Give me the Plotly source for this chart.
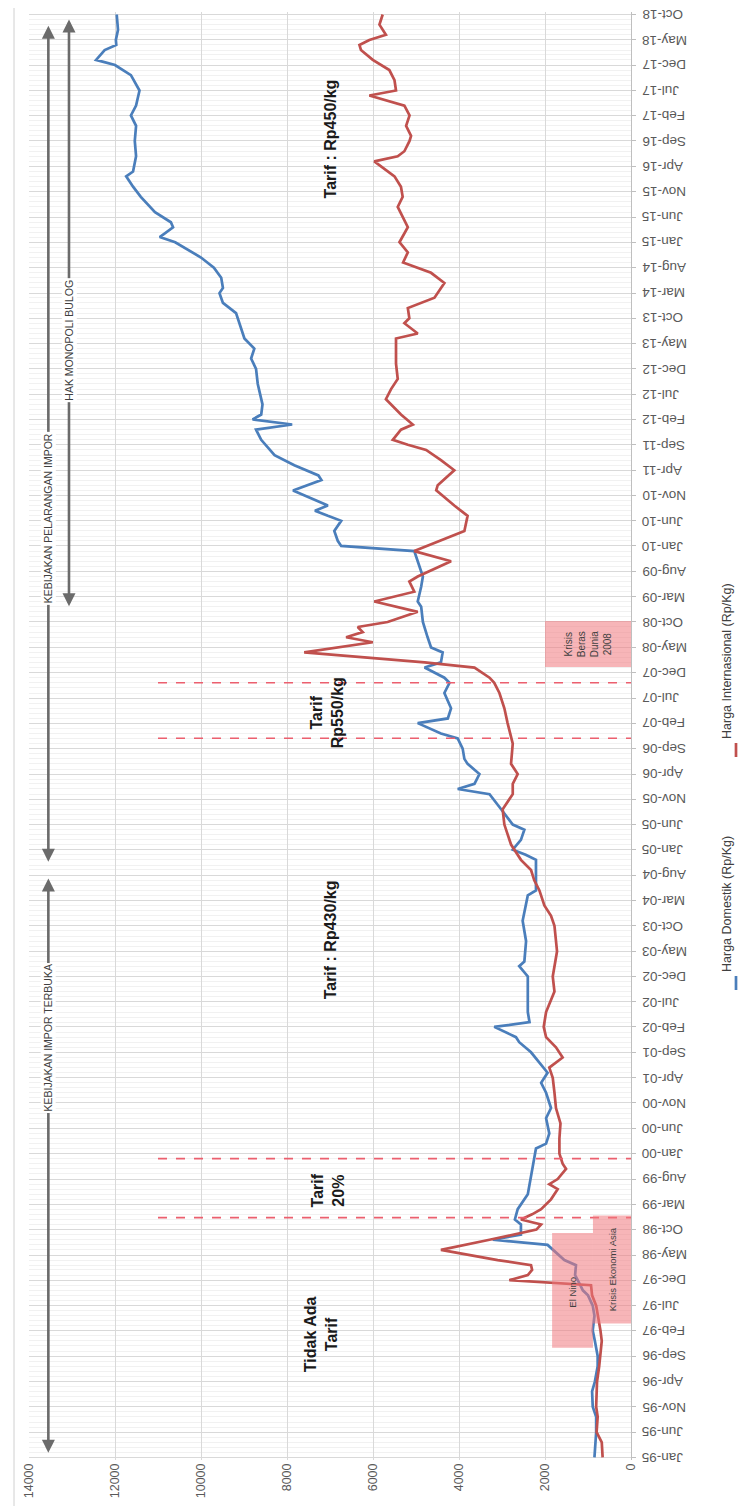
import pandas as pd
import plotly.graph_objects as go

# ---------------- data ----------------
dom_dates = ["1995-01","1995-04","1995-06","1995-09","1995-11","1996-02","1996-04","1996-07","1996-09","1996-12",
             "1997-02","1997-05","1997-07","1997-09","1997-10","1997-11","1998-01","1998-03","1998-04","1998-07",
             "1998-08","1998-09","1998-11","1998-12","1999-02","1999-05","1999-07","1999-10","1999-12","2000-02",
             "2000-03","2000-05","2000-08","2000-10","2001-01","2001-03","2001-05","2001-07","2001-09","2001-11",
             "2001-12","2002-02","2002-03","2002-05","2002-09","2002-12","2003-02","2003-03","2003-07","2003-11",
             "2004-04","2004-05","2004-11","2004-12","2005-01","2005-03","2005-05","2005-06","2005-09","2005-12",
             "2006-01","2006-02","2006-04","2006-06","2006-07","2006-09","2006-11","2006-12","2007-02","2007-03",
             "2007-05","2007-08","2007-10","2007-11","2008-01","2008-02","2008-04","2008-05","2008-07","2008-10",
             "2009-01","2009-02","2009-05","2009-07","2009-10","2009-12","2010-01","2010-02","2010-04","2010-06",
             "2010-07","2010-08","2010-09","2010-11","2010-12","2011-02","2011-03","2011-05","2011-07","2011-10",
             "2011-12","2012-01","2012-02","2012-03","2012-05","2012-09","2012-12","2013-02","2013-04","2013-06",
             "2013-09","2013-11","2014-01","2014-03","2014-04","2014-06","2014-08","2014-10","2015-01","2015-02",
             "2015-04","2015-05","2015-07","2015-10","2015-12","2016-02","2016-03","2016-06","2016-09","2016-12",
             "2017-02","2017-04","2017-07","2017-10","2017-12","2018-01","2018-03","2018-04","2018-05","2018-07",
             "2018-10"]
dom_values = [850, 830, 810, 810, 890, 905, 840, 775, 775, 840,
              890, 850, 890, 1000, 1120, 1180, 1300, 1280, 1550, 1940,
              3215, 2560, 2560, 2700, 2635, 2400, 2360, 2290, 2250, 2210,
              1975, 1900, 1975, 1860, 1975, 2090, 1940, 2130, 2325, 2600,
              2675, 3180, 2360, 2400, 2400, 2400, 2600, 2480, 2440, 2520,
              2400, 2210, 2210, 2450, 2750, 2560, 2480, 2750, 3020, 3290,
              4030, 3640, 3525, 3800, 3875, 3915, 4030, 4420, 4960, 4260,
              4185, 4340, 4220, 4340, 4800, 4420, 4380, 4650, 4730, 4840,
              4880, 4960, 4880, 4840, 4960, 5040, 6740, 6820, 6900, 6740,
              7050, 7350, 7050, 7600, 7860, 7200, 7270, 7830, 8290, 8600,
              8720, 7880, 8800, 8600, 8570, 8680, 8720, 8835, 8760, 8990,
              9110, 9185, 9490, 9570, 9490, 9530, 9700, 10000, 10600, 10960,
              10650, 10700, 11070, 11400, 11580, 11740, 11580, 11510, 11540, 11510,
              11630, 11510, 11430, 11630, 12000, 12440, 12240, 11970, 11980, 11930,
              11960]

int_dates = ["1995-01","1995-04","1995-06","1995-09","1995-11","1996-02","1996-04","1996-07","1996-09","1996-12",
             "1997-02","1997-05","1997-07","1997-09","1997-11","1997-12","1998-01","1998-02","1998-03","1998-04",
             "1998-06","1998-08","1998-10","1998-11","1998-12","1999-01","1999-02","1999-04","1999-06","1999-07",
             "1999-08","1999-10","1999-11","2000-01","2000-04","2000-07","2000-10","2001-01","2001-04","2001-06",
             "2001-08","2001-10","2001-12","2002-02","2002-05","2002-09","2002-12","2003-05","2003-10","2003-12",
             "2004-02","2004-05","2004-07","2004-09","2004-11","2005-02","2005-04","2005-06","2005-09","2005-12",
             "2006-02","2006-04","2006-06","2006-10","2007-02","2007-05","2007-08","2007-10","2007-11","2008-01",
             "2008-02","2008-04","2008-06","2008-07","2008-08","2008-09","2008-10","2008-12","2009-02","2009-04",
             "2009-06","2009-07","2009-10","2009-12","2010-04","2010-07","2010-09","2010-12","2011-01","2011-04",
             "2011-06","2011-08","2011-09","2011-10","2011-12","2012-01","2012-03","2012-06","2012-08","2012-10",
             "2013-01","2013-03","2013-06","2013-07","2013-09","2013-10","2013-12","2014-02","2014-05","2014-07",
             "2014-08","2014-09","2014-11","2015-01","2015-04","2015-08","2015-10","2015-12","2016-02","2016-05",
             "2016-06","2016-07","2016-09","2016-10","2016-12","2017-02","2017-04","2017-06","2017-07","2017-09",
             "2017-11","2018-01","2018-03","2018-04","2018-05","2018-06","2018-08","2018-10"]
int_values = [660, 680, 800, 775, 810, 790, 790, 740, 710, 680,
              710, 760, 810, 905, 930, 2830, 2400, 2300, 2325, 3100,
              4420, 3290, 2200, 2090, 2560, 2300, 2090, 1860, 1705, 1900,
              1705, 1510, 1590, 1665, 1665, 1640, 1745, 1780, 1820, 1900,
              1590, 1745, 1975, 2030, 1975, 1780, 1820, 1720, 1780, 1860,
              2015, 2130, 2250, 2325, 2560, 2790, 2870, 2945, 2985, 2750,
              2750, 2635, 2790, 2750, 2870, 2945, 3060, 3180, 3290, 3640,
              4800, 7600, 6005, 6625, 6240, 6355, 5660, 4960, 5970, 5040,
              5155, 4960, 4185, 5040, 3875, 3800, 4110, 4530, 4495, 4110,
              4420, 4765, 5190, 5540, 5350, 5075, 5350, 5700, 5580, 5425,
              5465, 5465, 5465, 4960, 5270, 5155, 5190, 4570, 4340, 4650,
              5000, 5300, 5190, 5385, 5190, 5425, 5310, 5350, 5500, 5970,
              5425, 5270, 5150, 5115, 5230, 5150, 5270, 6085, 5465, 5500,
              5620, 6005, 6280, 6315, 6085, 5700, 5850, 5775]

series_names = ["Harga Domestik (Rp/Kg)", "Harga Internasional (Rp/Kg)"]
value_ticks = [0, 2000, 4000, 6000, 8000, 10000, 12000, 14000]
tick_dates = pd.date_range("1995-01-01", "2018-10-01", freq="5MS")
tick_labels = [d.strftime("%b-%y") for d in tick_dates]

# ---------------- styling ----------------
BLUE = "#4A7EBB"
RED = "#C0504D"
DASH = "#EB5F6E"
BOX = "rgba(240,120,125,0.55)"
TXT = "#404040"
ARROW = "#6B6B6B"
FONT = "Liberation Sans"

W, H = 752, 1506
ML, MR, MT, MB = 21, 129, 4, 54
PW, PH = W - ML - MR, H - MT - MB


def px2x(px):
    return (px - ML) / PW


def py2y(py):
    return (H - MB - py) / PH


fig = go.Figure()
fig.add_trace(go.Scatter(x=dom_values, y=dom_dates, mode="lines", name=series_names[0],
                         line=dict(color=BLUE, width=2.7), showlegend=False))
fig.add_trace(go.Scatter(x=int_values, y=int_dates, mode="lines", name=series_names[1],
                         line=dict(color=RED, width=2.7), showlegend=False))

shapes = []
# tariff change dashed lines
for d in ["1998-12-12", "1999-12-02", "2006-11-02", "2007-10-02"]:
    shapes.append(dict(type="line", xref="x", yref="y", x0=11000, x1=0, y0=d, y1=d,
                       line=dict(color=DASH, width=1.6, dash="dash"), layer="above"))
# event boxes
for (xa, xb, ya, yb) in [(1835, 885, "1996-10-21", "1998-09-10"),
                         (885, 0, "1997-03-15", "1998-12-25"),
                         (2000, 0, "2008-01-04", "2008-10-07")]:
    shapes.append(dict(type="rect", xref="x", yref="y", x0=xa, x1=xb, y0=ya, y1=yb,
                       fillcolor=BOX, line=dict(width=0), layer="above"))
# legend line samples
LEGX = 728
shapes.append(dict(type="line", xref="paper", yref="paper", x0=px2x(LEGX), x1=px2x(LEGX),
                   y0=py2y(968), y1=py2y(982), line=dict(color=BLUE, width=2.7)))
shapes.append(dict(type="line", xref="paper", yref="paper", x0=px2x(LEGX), x1=px2x(LEGX),
                   y0=py2y(735), y1=py2y(749), line=dict(color=RED, width=2.7)))
# chart area frame
shapes.append(dict(type="rect", xref="paper", yref="paper", x0=px2x(6), x1=px2x(800),
                   y0=py2y(1501), y1=py2y(-10), line=dict(color="#D0D0D0", width=1),
                   fillcolor="rgba(0,0,0,0)"))

ann = []


def label(x, y, text, size=16, bold=True, **kw):
    t = f"<b>{text}</b>" if bold else text
    d = dict(x=x, y=y, xref="x", yref="y", text=t, showarrow=False, textangle=-90,
             font=dict(family=FONT, size=size, color="#1a1a1a" if bold else TXT))
    d.update(kw)
    ann.append(d)


label(6980, "2016-09-15", "Tarif : Rp450/kg")
label(7000, "2003-07-06", "Tarif : Rp430/kg")
label(7050, "2007-04-06", "Tarif<br>Rp550/kg")
label(7050, "1999-05-24", "Tarif<br>20%")
label(7210, "1997-01-10", "Tidak Ada<br>Tarif")
label(1360, "1997-09-20", "El Nino", size=9.5, bold=False)
label(440, "1998-02-05", "Krisis Ekonomi Asia", size=9.5, bold=False)
label(1000, "2008-05-20", "Krisis<br>Beras<br>Dunia<br>2008", size=10, bold=False)


def arrow(x, head, tail):
    ann.append(dict(x=x, y=head, ax=x, ay=tail, xref="x", yref="y", axref="x", ayref="y",
                    text="", showarrow=True, arrowhead=2, arrowside="end+start",
                    arrowsize=1, arrowwidth=2.6, arrowcolor=ARROW, standoff=0, startstandoff=0))


arrow(13550, "2018-07-25", "2004-10-12")
arrow(13550, "2004-07-12", "1995-01-19")
arrow(13070, "2018-09-01", "2008-12-25")

label(13550, "2010-06-18", "KEBIJAKAN PELARANGAN IMPOR", size=10.5, bold=False, bgcolor="white")
label(13070, "2013-05-25", "HAK MONOPOLI BULOG", size=10.5, bold=False, bgcolor="white")
label(13550, "2001-11-25", "KEBIJAKAN IMPOR TERBUKA", size=10.5, bold=False, bgcolor="white")

# date tick labels (upside down, as in the rotated original)
for d, t in zip(tick_dates, tick_labels):
    ann.append(dict(x=px2x(632), y=d.strftime("%Y-%m-%d"), xref="paper", yref="y", text=t,
                    showarrow=False, textangle=180, xanchor="left", yanchor="middle",
                    font=dict(family=FONT, size=13.5, color="#595959")))

# legend texts
for name, cy in [(series_names[0], 896), (series_names[1], 653)]:
    ann.append(dict(x=px2x(LEGX), y=py2y(cy), xref="paper", yref="paper", text=name,
                    showarrow=False, textangle=-90,
                    font=dict(family=FONT, size=12.5, color=TXT)))

fig.update_layout(
    width=W, height=H,
    margin=dict(l=ML, r=MR, t=MT, b=MB),
    paper_bgcolor="white", plot_bgcolor="white",
    shapes=shapes, annotations=ann,
    showlegend=False,
    xaxis=dict(range=[14000, 0], tickvals=value_ticks, tickangle=-90, tickformat="d",
               showgrid=True, gridcolor="#D9D9D9", gridwidth=1,
               zeroline=False, showline=False, ticks="",
               tickfont=dict(family=FONT, size=12.5, color="#595959")),
    yaxis=dict(type="date", range=["1994-12-16", "2018-10-16"], side="right",
               tick0="1995-01-01", dtick="M5", showticklabels=False,
               showgrid=True, gridcolor="#D9D9D9", gridwidth=1,
               minor=dict(dtick="M1", showgrid=True, gridcolor="#F1F1F1"),
               showline=True, linecolor="#BFBFBF", linewidth=1,
               ticks="outside", ticklen=4, tickcolor="#BFBFBF",
               zeroline=False),
)

fig.write_html("out.html")
